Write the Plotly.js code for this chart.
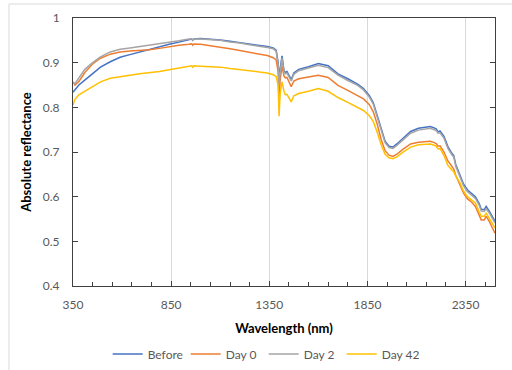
<!DOCTYPE html>
<html><head><meta charset="utf-8">
<script src="https://cdn.plot.ly/plotly-3.0.1.min.js"></script>
<style>html,body{margin:0;padding:0;background:#fff}#chart{width:512px;height:370px}</style>
</head><body><div id="chart"></div>
<script>
const wavelength = [350,360,380,410,450,490,540,590,640,690,740,790,840,890,940,955,960,965,1000,1050,1100,1150,1200,1250,1300,1340,1370,1385,1395,1400,1405,1415,1425,1432,1440,1450,1462,1475,1500,1550,1600,1650,1700,1750,1800,1830,1860,1880,1900,1920,1940,1960,1980,2000,2030,2070,2110,2150,2170,2190,2200,2210,2220,2240,2260,2280,2290,2300,2320,2340,2360,2380,2400,2420,2430,2445,2455,2470,2485,2500];

const before = [0.834,0.840,0.850,0.861,0.876,0.890,0.902,0.912,0.918,0.924,0.929,0.936,0.941,0.946,0.952,0.953,0.950,0.953,0.954,0.953,0.951,0.948,0.945,0.942,0.939,0.936,0.933,0.928,0.900,0.860,0.885,0.915,0.882,0.878,0.880,0.872,0.862,0.877,0.885,0.891,0.898,0.893,0.875,0.864,0.852,0.842,0.826,0.810,0.783,0.751,0.724,0.713,0.711,0.718,0.730,0.746,0.753,0.756,0.757,0.754,0.752,0.745,0.747,0.735,0.712,0.697,0.692,0.672,0.652,0.628,0.615,0.608,0.600,0.584,0.572,0.571,0.578,0.568,0.556,0.545];

const day0 = [0.857,0.850,0.858,0.878,0.897,0.910,0.919,0.924,0.926,0.927,0.929,0.932,0.936,0.939,0.941,0.942,0.939,0.942,0.941,0.938,0.935,0.931,0.927,0.923,0.919,0.916,0.911,0.906,0.880,0.800,0.860,0.893,0.870,0.866,0.867,0.857,0.846,0.859,0.864,0.868,0.872,0.867,0.849,0.838,0.827,0.819,0.806,0.790,0.762,0.728,0.703,0.693,0.690,0.695,0.706,0.718,0.722,0.724,0.724,0.721,0.719,0.713,0.714,0.700,0.680,0.668,0.662,0.648,0.628,0.608,0.595,0.588,0.578,0.558,0.548,0.548,0.556,0.545,0.532,0.518];

const day2 = [0.855,0.853,0.866,0.885,0.900,0.913,0.924,0.930,0.933,0.936,0.939,0.942,0.945,0.949,0.953,0.953,0.950,0.953,0.953,0.952,0.950,0.946,0.944,0.940,0.937,0.934,0.931,0.926,0.895,0.850,0.878,0.911,0.879,0.875,0.877,0.869,0.859,0.874,0.882,0.888,0.894,0.889,0.872,0.860,0.849,0.839,0.823,0.807,0.780,0.748,0.721,0.710,0.708,0.715,0.727,0.742,0.749,0.752,0.753,0.750,0.748,0.742,0.743,0.731,0.708,0.694,0.689,0.668,0.648,0.624,0.611,0.604,0.596,0.580,0.568,0.567,0.573,0.564,0.552,0.541];

const day42 = [0.805,0.818,0.828,0.836,0.848,0.857,0.865,0.869,0.872,0.875,0.877,0.880,0.884,0.888,0.892,0.893,0.890,0.893,0.892,0.891,0.890,0.887,0.885,0.882,0.879,0.877,0.873,0.869,0.850,0.780,0.830,0.857,0.836,0.828,0.829,0.822,0.812,0.826,0.831,0.836,0.842,0.836,0.822,0.811,0.800,0.793,0.781,0.768,0.744,0.716,0.695,0.687,0.685,0.689,0.699,0.711,0.716,0.718,0.718,0.715,0.713,0.707,0.708,0.692,0.670,0.660,0.656,0.646,0.632,0.612,0.600,0.593,0.586,0.565,0.556,0.556,0.563,0.552,0.540,0.530];

const seriesNames = ['Before','Day 0','Day 2','Day 42'];
const seriesValues = [before, day0, day2, day42];
const seriesColors = ['#4472C4','#ED7D31','#A5A5A5','#FFC000'];

const xTickVals = [350,850,1350,1850,2350];
const yTickVals = [0.4,0.5,0.6,0.7,0.8,0.9,1];
const yTickText = ['0.4','0.5','0.6','0.7','0.8','0.9','1'];

const FONT = 'Lato, "Open Sans", sans-serif';

const traces = seriesNames.map((n,i)=>({
  type:'scatter', mode:'lines', name:n, x:wavelength, y:seriesValues[i],
  line:{color:seriesColors[i], width:1.5}, hoverinfo:'skip'
}));

const layout = {
  width:512, height:370,
  margin:{l:73, r:17, t:18, b:84, pad:0, autoexpand:false},
  paper_bgcolor:'#ffffff', plot_bgcolor:'#ffffff',
  font:{family:FONT, size:12, color:'#595959'},
  showlegend:true,
  legend:{orientation:'h', xref:'container', yref:'container', x:0.515, xanchor:'center', y:0.043, yanchor:'middle',
          font:{family:FONT, size:12, color:'#595959'}, entrywidth:33, entrywidthmode:'pixels', itemwidth:30, tracegroupgap:0},
  xaxis:{
    range:[350,2500], tickmode:'array', tickvals:xTickVals, ticktext:xTickVals.map(String),
    showgrid:true, gridcolor:'#D9D9D9', gridwidth:1, zeroline:false,
    showline:true, linecolor:'#404040', linewidth:1, mirror:true,
    ticks:'inside', ticklen:5, tickcolor:'#404040', ticklabelstandoff:8,
    minor:{dtick:100, tick0:350, ticks:'inside', ticklen:4, tickcolor:'#404040', showgrid:false},
    tickfont:{family:FONT, size:12, color:'#595959'},
    title:{text:'<b>Wavelength (nm)</b>', font:{family:FONT, size:13, color:'#000000'}, standoff:12}
  },
  yaxis:{
    range:[0.4,1], tickmode:'array', tickvals:yTickVals, ticktext:yTickText,
    showgrid:false, zeroline:false,
    showline:true, linecolor:'#404040', linewidth:1, mirror:'ticks',
    ticks:'inside', ticklen:5, tickcolor:'#404040', ticklabelstandoff:10,
    tickfont:{family:FONT, size:12, color:'#595959'},
    title:{text:'<b>Absolute reflectance</b>', font:{family:FONT, size:13, color:'#000000'}, standoff:8}
  },
  shapes:[{type:'rect', xref:'paper', yref:'paper', x0:-0.1517, x1:1.3, y0:-0.5, y1:1.0522,
           line:{color:'#D9D9D9', width:1}, fillcolor:'rgba(0,0,0,0)', layer:'below'}]
};

Plotly.newPlot('chart', traces, layout, {staticPlot:true, displayModeBar:false});
</script></body></html>
